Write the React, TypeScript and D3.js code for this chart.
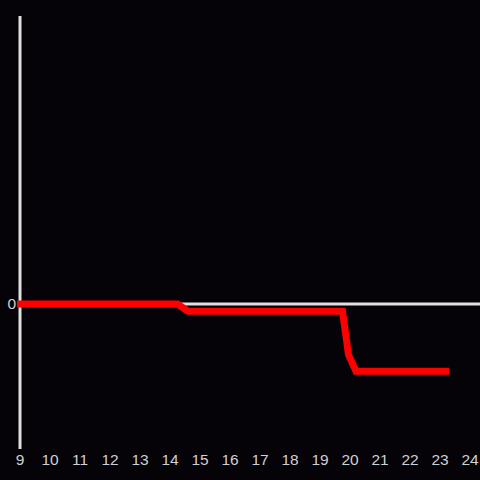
import React from "react";
import * as d3 from "d3";

const xValues = [8.9, 14.25, 14.6, 19.75, 19.95, 20.2, 23.3];
const yValues = [0, 0, -0.15, -0.15, -1.06, -1.4, -1.4];
const xTicks = [9, 10, 11, 12, 13, 14, 15, 16, 17, 18, 19, 20, 21, 22, 23, 24];
const yTicks = [0];

export default function App() {
  const W = 480, H = 480;
  const x = d3.scaleLinear().domain([9, 24]).range([20, 470]);
  const y = d3.scaleLinear().domain([-3, 6]).range([448, 16]);
  const pts: [number, number][] = xValues.map((v, i) => [v, yValues[i]]);
  const line = d3.line<[number, number]>().x(d => x(d[0])).y(d => y(d[1]));
  const font = "'Liberation Sans', Arial, sans-serif";
  return (
    <svg width={W} height={H} style={{ position: "fixed", left: 0, top: 0, background: "#050308" }}>
      <rect x={0} y={0} width={W} height={H} fill="#050308" />
      <line x1={x(9)} x2={W} y1={y(0)} y2={y(0)} stroke="#e0e0e0" strokeWidth={3} />
      <line x1={x(9)} x2={x(9)} y1={16} y2={449} stroke="#e0e0e0" strokeWidth={3} />
      <path d={line(pts) || ""} fill="none" stroke="#ff0000" strokeWidth={7} strokeLinejoin="miter" />
      {xTicks.map(t => (
        <text key={t} x={x(t)} y={461} textAnchor="middle" dominantBaseline="middle"
          fill="#d0d0d0" fontSize={15.5} fontFamily={font}>{t}</text>
      ))}
      {yTicks.map(t => (
        <text key={t} x={16} y={y(t) + 1} textAnchor="end" dominantBaseline="middle"
          fill="#d0d0d0" fontSize={15.5} fontFamily={font}>{t}</text>
      ))}
    </svg>
  );
}
